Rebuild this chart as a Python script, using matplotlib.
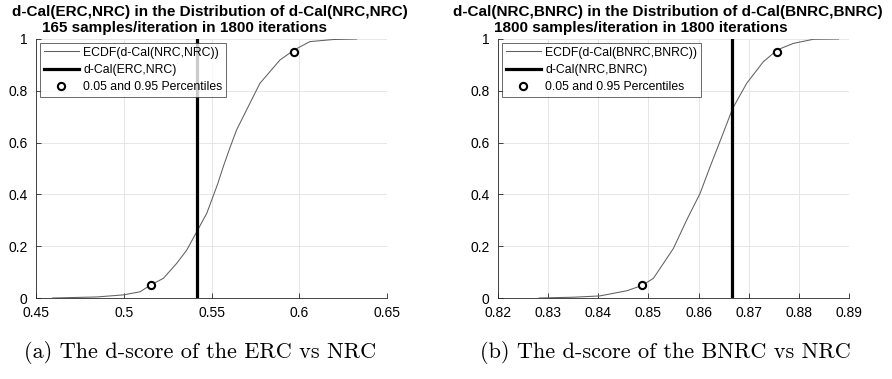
import matplotlib
matplotlib.use("Agg")
from matplotlib import pyplot as plt

plt.rcParams['font.family'] = ['Liberation Sans', 'DejaVu Sans']

# ECDF of d-Cal(NRC,NRC)
ecdf_a_x = [0.4595, 0.4846, 0.4998, 0.5093, 0.5155, 0.5226, 0.5302, 0.5359, 0.5416, 0.5473,
            0.5501, 0.5535, 0.5567, 0.5605, 0.5643, 0.5719, 0.5776, 0.589, 0.5972, 0.6061,
            0.6194, 0.6327]
ecdf_a_y = [0.0, 0.004, 0.012, 0.024, 0.051, 0.076, 0.134, 0.185, 0.256, 0.327,
            0.378, 0.440, 0.507, 0.580, 0.649, 0.752, 0.829, 0.919, 0.958, 0.990,
            0.998, 1.0]
dcal_a = 0.5416
pct_a_x = [0.5155, 0.5970]
pct_a_y = [0.05, 0.95]

# ECDF of d-Cal(BNRC,BNRC)
ecdf_b_x = [0.8282, 0.8350, 0.8403, 0.8457, 0.8488, 0.8510, 0.8550, 0.8576, 0.8603, 0.8623,
            0.8649, 0.8668, 0.8696, 0.8729, 0.8757, 0.8789, 0.8829, 0.8879]
ecdf_b_y = [0.0, 0.003, 0.008, 0.028, 0.049, 0.076, 0.192, 0.30, 0.404, 0.507,
            0.636, 0.732, 0.829, 0.912, 0.958, 0.983, 0.999, 1.0]
dcal_b = 0.8667
pct_b_x = [0.8488, 0.8757]
pct_b_y = [0.05, 0.95]

panels = [
    dict(x=ecdf_a_x, y=ecdf_a_y, v=dcal_a, px=pct_a_x, py=pct_a_y,
         ecdf_label="ECDF(d-Cal(NRC,NRC))", v_label="d-Cal(ERC,NRC)",
         title1="d-Cal(ERC,NRC) in the Distribution of d-Cal(NRC,NRC)",
         title2="165 samples/iteration in 1800 iterations",
         xlim=(0.45, 0.65), xticks=[0.45, 0.5, 0.55, 0.6, 0.65],
         caption="(a) The d-score of the ERC vs NRC"),
    dict(x=ecdf_b_x, y=ecdf_b_y, v=dcal_b, px=pct_b_x, py=pct_b_y,
         ecdf_label="ECDF(d-Cal(BNRC,BNRC))", v_label="d-Cal(NRC,BNRC)",
         title1="d-Cal(NRC,BNRC) in the Distribution of d-Cal(BNRC,BNRC)",
         title2="1800 samples/iteration in 1800 iterations",
         xlim=(0.82, 0.89), xticks=[0.82, 0.83, 0.84, 0.85, 0.86, 0.87, 0.88, 0.89],
         caption="(b) The d-score of the BNRC vs NRC"),
]

W, H = 892, 379
fig = plt.figure(figsize=(W / 100, H / 100), dpi=100)

lefts = [36, 498]
title1_cx = [210, 668]
title2_cx = [184, 641]
caption_cx = [200, 665]

for i, p in enumerate(panels):
    ax = fig.add_axes([lefts[i] / W, 1 - 298 / H, 351 / W, 259 / H])
    ax.plot(p["x"], p["y"], color="#606060", linewidth=0.75, label=p["ecdf_label"])
    ax.axvline(p["v"], color="black", linewidth=2.3, label=p["v_label"])
    ax.plot(p["px"], p["py"], linestyle="none", marker="o", markersize=5.2,
            markerfacecolor="white", markeredgecolor="black", markeredgewidth=1.5,
            label="0.05 and 0.95 Percentiles")

    ax.set_xlim(*p["xlim"])
    ax.set_ylim(0, 1)
    ax.set_xticks(p["xticks"])
    ax.set_xticklabels([f"{t:g}" for t in p["xticks"]])
    ax.set_yticks([0, 0.2, 0.4, 0.6, 0.8, 1])
    ax.set_yticklabels(["0", "0.2", "0.4", "0.6", "0.8", "1"])
    ax.tick_params(axis='both', which='major', labelsize=10, direction="in",
                   length=3.5, width=0.6, color="#262626", pad=6)
    ax.grid(True, which='major', axis='both', color="#e6e6e6", linewidth=0.7)
    ax.set_axisbelow(True)
    for side in ["top", "right"]:
        ax.spines[side].set_visible(False)
    for side in ["left", "bottom"]:
        ax.spines[side].set_color("#262626")
        ax.spines[side].set_linewidth(0.6)

    leg = ax.legend(loc="upper left", fontsize=8.8, frameon=True, fancybox=False,
                    borderaxespad=0.33, borderpad=0.3, labelspacing=0.42,
                    handlelength=2.9, handletextpad=0.35, edgecolor="#262626")
    leg.get_frame().set_linewidth(0.6)

    fig.text(title1_cx[i] / W, 1 - 12 / H, p["title1"], ha="center", va="center",
             fontsize=11, fontweight="bold")
    fig.text(title2_cx[i] / W, 1 - 28 / H, p["title2"], ha="center", va="center",
             fontsize=11, fontweight="bold")
    fig.text(caption_cx[i] / W, 1 - 353 / H, p["caption"], ha="center", va="center",
             fontsize=16, family=["cmr10", "DejaVu Serif"])

fig.savefig("out.png", dpi=100)
plt.close()
